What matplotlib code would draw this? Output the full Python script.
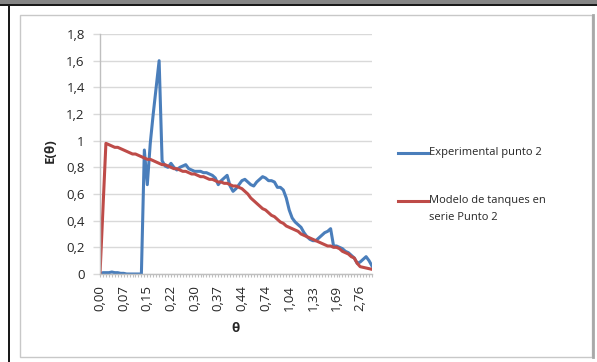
import matplotlib.pyplot as plt
from matplotlib.lines import Line2D
from matplotlib.patches import Rectangle

plt.rcParams['font.family'] = ['Open Sans', 'DejaVu Sans']

# category labels shown on the theta axis (one every 8 points)
theta_labels = ["0,00", "0,07", "0,15", "0,22", "0,30", "0,37",
                "0,44", "0,74", "1,04", "1,33", "1,69", "2,76"]
label_step = 8

# experimental E(theta), point 2
e_exp = [0.00, 0.01, 0.01, 0.01, 0.015, 0.01, 0.01, 0.005, 0.005, 0.00,
         0.00, 0.00, 0.00, 0.00, 0.00, 0.93, 0.67, 0.98, 1.20, 1.40,
         1.60, 0.85, 0.81, 0.80, 0.83, 0.80, 0.78, 0.80, 0.81, 0.82,
         0.79, 0.78, 0.77, 0.77, 0.77, 0.76, 0.76, 0.75, 0.74, 0.72,
         0.67, 0.70, 0.72, 0.74, 0.66, 0.62, 0.64, 0.67, 0.70, 0.71,
         0.69, 0.67, 0.66, 0.69, 0.71, 0.73, 0.72, 0.70, 0.70, 0.69,
         0.65, 0.65, 0.63, 0.57, 0.48, 0.42, 0.39, 0.37, 0.35, 0.31,
         0.28, 0.26, 0.25, 0.25, 0.27, 0.29, 0.31, 0.32, 0.34, 0.21,
         0.21, 0.20, 0.19, 0.17, 0.16, 0.14, 0.12, 0.08, 0.09, 0.11,
         0.13, 0.10, 0.06]

# tanks-in-series model, point 2
e_mod = [0.00, 0.49, 0.98, 0.97, 0.96, 0.95, 0.95, 0.94, 0.93, 0.92,
         0.91, 0.90, 0.90, 0.89, 0.88, 0.87, 0.86, 0.86, 0.85, 0.84,
         0.83, 0.82, 0.82, 0.81, 0.80, 0.79, 0.79, 0.78, 0.77, 0.77,
         0.76, 0.75, 0.75, 0.74, 0.73, 0.73, 0.72, 0.71, 0.71, 0.70,
         0.69, 0.69, 0.68, 0.68, 0.67, 0.66, 0.66, 0.65, 0.64, 0.62,
         0.60, 0.57, 0.55, 0.53, 0.51, 0.49, 0.48, 0.46, 0.44, 0.43,
         0.41, 0.39, 0.38, 0.36, 0.35, 0.34, 0.33, 0.32, 0.30, 0.29,
         0.28, 0.27, 0.26, 0.25, 0.24, 0.23, 0.22, 0.21, 0.21, 0.20,
         0.20, 0.19, 0.17, 0.16, 0.15, 0.13, 0.12, 0.08, 0.055, 0.05,
         0.045, 0.04, 0.035]

blue = '#4a7ebb'
red = '#be4b48'
grid = '#d9d9d9'
txt = '#262626'

W, H = 597, 362
fig = plt.figure(figsize=(W / 100, H / 100), dpi=100)

def fx(px):
    return px / W

def fy(py):
    return 1 - py / H

# window frame around the chart
fig.add_artist(Rectangle((0, fy(4)), 1, 4 / H, transform=fig.transFigure,
                         color='#858585', lw=0))
fig.add_artist(Rectangle((0, fy(6)), 1, 2 / H, transform=fig.transFigure,
                         color='#1a1a1a', lw=0))
fig.add_artist(Rectangle((fx(7.5), 0), 2.5 / W, fy(4), transform=fig.transFigure,
                         color='#1a1a1a', lw=0))
fig.add_artist(Rectangle((fx(19.5), fy(357)), fx(592) - fx(19.5), 342 / H,
                         transform=fig.transFigure, fill=False,
                         ec='#c8c8c8', lw=1))
fig.add_artist(Line2D([fx(592.5), fx(592.5)], [fy(357), fy(15)],
                      transform=fig.transFigure, color='#a8a8a8', lw=2))

ax = fig.add_axes([fx(100), fy(274), (372 - 100) / W, 240 / H])

n = len(e_exp)
cats = list(range(n))
ax.plot(cats, e_exp, color=blue, lw=2.2, solid_joinstyle='round')
ax.plot(cats, e_mod, color=red, lw=2.2, solid_joinstyle='round')

ax.set_xlim(0, n - 1)
ax.set_ylim(0, 1.8)
yt = [0, 0.2, 0.4, 0.6, 0.8, 1.0, 1.2, 1.4, 1.6, 1.8]
ax.set_yticks(yt)
ax.set_yticklabels(['0', '0,2', '0,4', '0,6', '0,8', '1', '1,2', '1,4', '1,6', '1,8'])
ax.yaxis.grid(True, color=grid, lw=1)
ax.set_axisbelow(True)

xlabels = [''] * n
for k, lab in enumerate(theta_labels):
    xlabels[k * label_step] = lab
ax.set_xticks(cats)
ax.set_xticklabels(xlabels, rotation=90)

for s in ['top', 'right']:
    ax.spines[s].set_visible(False)
for s in ['left', 'bottom']:
    ax.spines[s].set_color('#bfbfbf')
    ax.spines[s].set_linewidth(1)

ax.tick_params(axis='y', length=5, width=1, color=grid, labelsize=9.5,
               labelcolor=txt, pad=6)
ax.tick_params(axis='x', length=2.2, width=0.8, color='#bfbfbf', labelsize=9.5,
               labelcolor=txt, pad=5.5)

fig.text(fx(50), fy(151), 'E(θ)', rotation=90, ha='center', va='center',
         fontsize=9.5, fontweight='bold', color=txt)
fig.text(fx(236), fy(328), 'θ', ha='center', va='center',
         fontsize=9.5, fontweight='bold', color=txt)

# legend drawn beside the plot area
fig.add_artist(Line2D([fx(398), fx(428)], [fy(153), fy(153)],
                      transform=fig.transFigure, color=blue, lw=2.2))
fig.text(fx(429), fy(153), 'Experimental punto 2', ha='left', va='center',
         fontsize=8, color=txt)
fig.add_artist(Line2D([fx(398), fx(428)], [fy(201), fy(201)],
                      transform=fig.transFigure, color=red, lw=2.2))
fig.text(fx(429), fy(201), 'Modelo de tanques en', ha='left', va='center',
         fontsize=8, color=txt)
fig.text(fx(429), fy(218), 'serie Punto 2', ha='left', va='center',
         fontsize=8, color=txt)

fig.savefig('out.png', dpi=100)
